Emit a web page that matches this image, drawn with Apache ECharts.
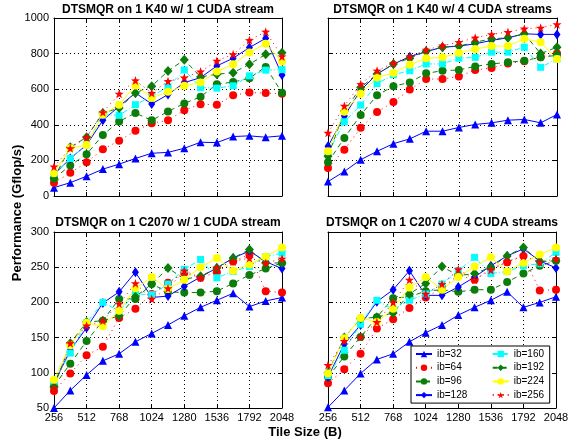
<!DOCTYPE html>
<html><head><meta charset="utf-8">
<script src="https://cdn.jsdelivr.net/npm/echarts@6/dist/echarts.min.js"></script>
<style>html,body{margin:0;padding:0;background:#fff}#c{width:574px;height:444px}</style>
</head><body><div id="c"></div>
<script>
const tileSizes = [256, 384, 512, 640, 768, 896, 1024, 1152, 1280, 1408, 1536, 1664, 1792, 1920, 2048];
const seriesNames = ['ib=32', 'ib=64', 'ib=96', 'ib=128', 'ib=160', 'ib=192', 'ib=224', 'ib=256'];
const panelTitles = [
  'DTSMQR on 1 K40 w/ 1 CUDA stream',
  'DTSMQR on 1 K40 w/ 4 CUDA streams',
  'DTSMQR on 1 C2070 w/ 1 CUDA stream',
  'DTSMQR on 1 C2070 w/ 4 CUDA streams'
];
const yLabel = 'Performance (Gflop/s)';
const xLabel = 'Tile Size (B)';

// K40, 1 stream
const k40s1_ib32  = [47, 75, 111, 151, 179, 211, 240, 245, 268, 302, 300, 334, 338, 330, 338];
const k40s1_ib64  = [75, 130, 189, 262, 311, 366, 409, 425, 482, 516, 512, 566, 581, 578, 575];
const k40s1_ib96  = [98, 172, 234, 343, 419, 466, 425, 475, 520, 557, 628, 640, 662, 725, 580];
const k40s1_ib128 = [120, 211, 287, 425, 504, 579, 517, 570, 637, 665, 731, 774, 834, 886, 680];
const k40s1_ib160 = [115, 211, 287, 457, 453, 513, 560, 613, 708, 609, 606, 619, 675, 707, 710];
const k40s1_ib192 = [100, 274, 330, 466, 494, 579, 617, 702, 765, 669, 684, 693, 740, 796, 805];
const k40s1_ib224 = [128, 268, 287, 457, 513, 621, 551, 585, 619, 637, 699, 740, 806, 856, 756];
const k40s1_ib256 = [165, 268, 330, 470, 574, 649, 579, 645, 665, 699, 759, 796, 875, 923, 784];

// K40, 4 streams
const k40s4_ib32  = [81, 138, 204, 251, 294, 321, 364, 364, 385, 402, 411, 426, 430, 411, 458];
const k40s4_ib64  = [157, 260, 383, 472, 528, 598, 657, 657, 672, 708, 719, 745, 757, 780, 800];
const k40s4_ib96  = [189, 326, 455, 566, 617, 638, 689, 704, 708, 728, 742, 751, 760, 780, 790];
const k40s4_ib128 = [279, 449, 594, 685, 741, 783, 811, 836, 842, 855, 874, 889, 911, 908, 908];
const k40s4_ib160 = [240, 417, 511, 632, 681, 704, 742, 742, 774, 779, 808, 808, 836, 723, 770];
const k40s4_ib192 = [223, 477, 609, 685, 741, 774, 813, 836, 842, 864, 883, 889, 911, 800, 836];
const k40s4_ib224 = [251, 474, 575, 666, 691, 738, 774, 779, 804, 826, 842, 842, 883, 864, 770];
const k40s4_ib256 = [355, 506, 628, 704, 747, 783, 821, 845, 864, 889, 908, 921, 940, 945, 964];

// C2070, 1 stream
const c2070s1_ib32  = [50, 75, 97, 117, 127, 144, 156, 168, 181, 193, 203, 213, 194, 202, 207];
const c2070s1_ib64  = [74, 99, 125, 137, 178, 191, 212, 228, 242, 235, 243, 258, 268, 216, 214];
const c2070s1_ib96  = [81, 113, 145, 174, 205, 205, 226, 215, 214, 214, 216, 227, 239, 248, 256];
const c2070s1_ib128 = [85, 132, 164, 199, 215, 243, 207, 209, 223, 236, 249, 263, 273, 258, 248];
const c2070s1_ib160 = [88, 128, 171, 200, 188, 212, 211, 226, 247, 261, 235, 244, 251, 265, 270];
const c2070s1_ib192 = [80, 142, 172, 174, 181, 208, 226, 249, 233, 237, 249, 263, 275, 256, 256];
const c2070s1_ib224 = [90, 139, 171, 166, 188, 220, 236, 219, 232, 250, 263, 245, 254, 265, 278];
const c2070s1_ib256 = [78, 142, 167, 174, 198, 227, 205, 220, 245, 235, 249, 258, 263, 256, 262];

// C2070, 4 streams
const c2070s4_ib32  = [51, 75, 99, 119, 127, 144, 157, 168, 182, 193, 203, 215, 193, 200, 208];
const c2070s4_ib64  = [85, 105, 127, 163, 176, 192, 207, 220, 239, 232, 248, 257, 266, 217, 218];
const c2070s4_ib96  = [94, 123, 151, 179, 206, 208, 216, 218, 215, 218, 218, 229, 241, 252, 259];
const c2070s4_ib128 = [94, 141, 168, 201, 218, 245, 210, 210, 222, 236, 252, 266, 276, 259, 249];
const c2070s4_ib160 = [96, 132, 169, 203, 190, 203, 212, 226, 245, 264, 241, 244, 252, 255, 271];
const c2070s4_ib192 = [100, 150, 177, 179, 185, 212, 227, 251, 238, 241, 250, 266, 278, 258, 259];
const c2070s4_ib224 = [99, 149, 178, 172, 191, 221, 236, 218, 236, 251, 264, 244, 256, 268, 278];
const c2070s4_ib256 = [111, 145, 151, 172, 200, 232, 212, 226, 247, 232, 246, 258, 266, 257, 262];

const panelData = [
  [k40s1_ib32, k40s1_ib64, k40s1_ib96, k40s1_ib128, k40s1_ib160, k40s1_ib192, k40s1_ib224, k40s1_ib256],
  [k40s4_ib32, k40s4_ib64, k40s4_ib96, k40s4_ib128, k40s4_ib160, k40s4_ib192, k40s4_ib224, k40s4_ib256],
  [c2070s1_ib32, c2070s1_ib64, c2070s1_ib96, c2070s1_ib128, c2070s1_ib160, c2070s1_ib192, c2070s1_ib224, c2070s1_ib256],
  [c2070s4_ib32, c2070s4_ib64, c2070s4_ib96, c2070s4_ib128, c2070s4_ib160, c2070s4_ib192, c2070s4_ib224, c2070s4_ib256]
];

const STAR = 'path://M0,-10 L2.35,-3.24 L9.51,-3.09 L3.8,1.24 L5.88,8.09 L0,4 L-5.88,8.09 L-3.8,1.24 L-9.51,-3.09 L-2.35,-3.24 Z';
const styles = [
  {color: '#0000ff', type: 'solid',      symbol: 'triangle', size: 8},
  {color: '#ff0000', type: [1, 4],       symbol: 'circle',   size: 8},
  {color: '#0a7d0a', type: [5, 4],       symbol: 'circle',   size: 8},
  {color: '#0000ff', type: 'solid',      symbol: 'diamond',  size: [7, 10]},
  {color: '#00ffff', type: [5, 2, 1, 2], symbol: 'rect',     size: 7},
  {color: '#0a7d0a', type: [5, 4],       symbol: 'diamond',  size: [9, 10]},
  {color: '#ffff00', type: 'solid',      symbol: 'circle',   size: 8},
  {color: '#ff0000', type: [1, 4],       symbol: STAR,       size: 9}
];

const FONT = 'Liberation Sans';
const grids = [
  {left: 54, top: 18, width: 228, height: 178},
  {left: 328, top: 18, width: 229, height: 178},
  {left: 54, top: 232, width: 228, height: 176},
  {left: 328, top: 232, width: 228, height: 176}
];
const yRanges = [[0, 1000, 200], [0, 1000, 200], [50, 300, 50], [50, 300, 50]];

const axLine = {show: true, onZero: false, lineStyle: {color: '#000', width: 1}};
const axTick = {show: true, inside: true, length: 4, lineStyle: {color: '#000'}};
const split = {show: true, lineStyle: {color: '#000', type: [1, 3], width: 1}};
const plain = v => String(v);

const xAxes = [], yAxes = [], series = [];
grids.forEach((g, i) => {
  xAxes.push({gridIndex: i, type: 'value', min: 256, max: 2048, interval: 256, position: 'bottom',
    axisLine: axLine, axisTick: axTick, splitLine: split,
    axisLabel: {show: i >= 2, color: '#000', fontSize: 11, margin: 4, fontFamily: FONT, formatter: plain}});
  xAxes.push({gridIndex: i, type: 'value', min: 256, max: 2048, interval: 256, position: 'top',
    axisLine: axLine, axisTick: axTick, splitLine: {show: false}, axisLabel: {show: false}});
  const r = yRanges[i];
  yAxes.push({gridIndex: i, type: 'value', min: r[0], max: r[1], interval: r[2], position: 'left',
    axisLine: axLine, axisTick: axTick, splitLine: split,
    axisLabel: {show: i % 2 === 0, color: '#000', fontSize: 11, margin: 5, fontFamily: FONT, formatter: plain}});
  yAxes.push({gridIndex: i, type: 'value', min: r[0], max: r[1], interval: r[2], position: 'right',
    axisLine: axLine, axisTick: axTick, splitLine: {show: false}, axisLabel: {show: false}});
  panelData[i].forEach((vals, k) => {
    const s = styles[k];
    series.push({
      name: seriesNames[k], type: 'line', xAxisIndex: i * 2, yAxisIndex: i * 2,
      data: tileSizes.map((x, j) => [x, vals[j]]),
      symbol: s.symbol, symbolSize: s.size, showAllSymbol: true,
      itemStyle: {color: s.color, borderWidth: 0},
      lineStyle: {color: s.color, width: 1, type: s.type},
      emphasis: {disabled: true}, animation: false, clip: false
    });
  });
});

const titleTexts = panelTitles.map((t, i) => ({
  type: 'text', x: grids[i].left + grids[i].width / 2, y: i < 2 ? 9.5 : 222.5,
  style: {text: t, align: 'center', verticalAlign: 'middle', fontSize: 12, fontWeight: 'bold',
    fontFamily: FONT, fill: '#000'}
}));

const legendData = seriesNames.map((n, k) => ({name: n, textStyle: {width: k < 4 ? 53 : 32}}));

const chart = echarts.init(document.getElementById('c'), null, {renderer: 'canvas'});
chart.setOption({
  backgroundColor: '#fff',
  animation: false,
  grid: grids,
  xAxis: xAxes,
  yAxis: yAxes,
  series: series,
  legend: {
    data: legendData, left: 411, top: 346, height: 56, orient: 'vertical',
    padding: [2, 4, 2, 4], itemGap: 1.7, itemWidth: 16, itemHeight: 8,
    backgroundColor: '#fff', borderColor: '#000', borderWidth: 1,
    textStyle: {fontSize: 10, lineHeight: 12, color: '#000', fontFamily: FONT},
    selectedMode: false
  },
  graphic: titleTexts.concat([
    {type: 'text', x: 17, y: 213, rotation: Math.PI / 2,
      style: {text: yLabel, align: 'center', verticalAlign: 'middle', fontSize: 13, fontWeight: 'bold', fontFamily: FONT, fill: '#000'}},
    {type: 'text', x: 305, y: 432,
      style: {text: xLabel, align: 'center', verticalAlign: 'middle', fontSize: 13, fontWeight: 'bold', fontFamily: FONT, fill: '#000'}}
  ])
});
</script>
</body></html>
